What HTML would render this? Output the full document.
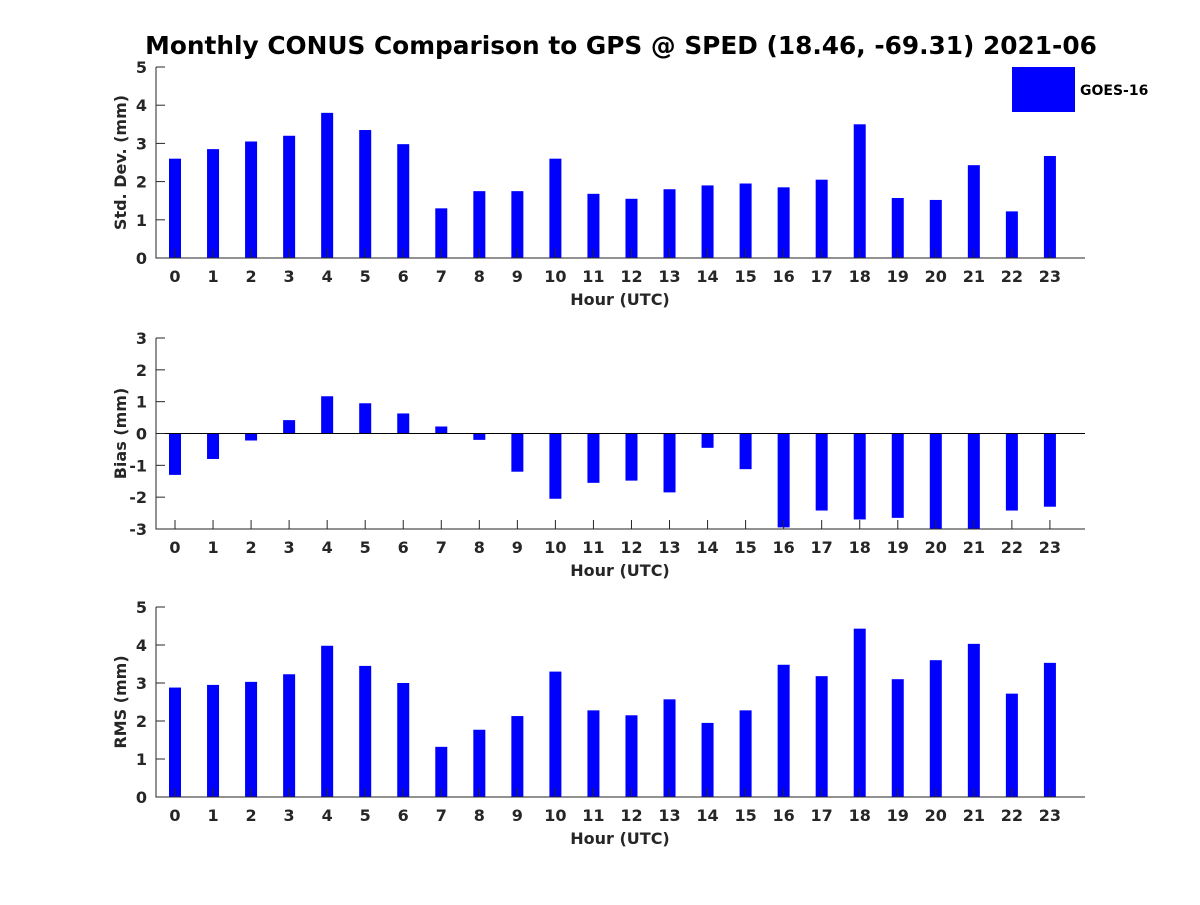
<!DOCTYPE html>
<html><head><meta charset="utf-8"><style>
body{margin:0;background:#fff}
svg text{font-family:"DejaVu Sans","Liberation Sans",sans-serif;font-weight:bold;fill:#262626}
</style></head><body>
<svg id="chart" width="1200" height="900">
<text x="621" y="54" text-anchor="middle" font-size="24.8" style="fill:#000">Monthly CONUS Comparison to GPS @ SPED (18.46, -69.31) 2021-06</text>
<rect x="1012" y="67" width="63" height="45" fill="#0000ff"/>
<text x="1080" y="95" font-size="14" style="fill:#000">GOES-16</text>
</svg>
<script>
const hours=[0,1,2,3,4,5,6,7,8,9,10,11,12,13,14,15,16,17,18,19,20,21,22,23];
const stdDev=[2.6,2.85,3.05,3.2,3.8,3.35,2.98,1.3,1.75,1.75,2.6,1.68,1.55,1.8,1.9,1.95,1.85,2.05,3.5,1.57,1.52,2.43,1.22,2.67];
const bias=[-1.3,-0.8,-0.22,0.42,1.17,0.95,0.63,0.22,-0.2,-1.2,-2.05,-1.55,-1.48,-1.85,-0.45,-1.12,-2.95,-2.42,-2.7,-2.65,-3.0,-3.0,-2.42,-2.3];
const rms=[2.88,2.95,3.03,3.23,3.98,3.45,3.0,1.32,1.77,2.13,3.3,2.28,2.15,2.57,1.95,2.28,3.48,3.18,4.43,3.1,3.6,4.03,2.72,3.53];
const stdTicks=[0,1,2,3,4,5];
const biasTicks=[-3,-2,-1,0,1,2,3];
const rmsTicks=[0,1,2,3,4,5];
const NS='http://www.w3.org/2000/svg';
const svg=document.getElementById('chart');
function mk(tag,attrs,parent){const e=document.createElementNS(NS,tag);for(const k in attrs)e.setAttribute(k,attrs[k]);(parent||svg).appendChild(e);return e;}
const X0=156,X1=1085;
function xs(h){return 175+h*38.04;}
function panel(name,vals,ticks,ymin,ymax,top,bot,ylabel){
  const g=mk('g',{});
  
  
  const ys=v=>bot-(v-ymin)/(ymax-ymin)*(bot-top);
  const base=ys(Math.max(ymin,0));
  vals.forEach((v,i)=>{
    const y1=ys(v),y0=base;
    const r=mk('rect',{x:xs(hours[i])-6,y:Math.min(y0,y1),width:12,height:Math.abs(y1-y0),fill:'#0000ff'},g);
    
    
  });
  if(ymin<0){const z=mk('line',{x1:X0,x2:X1,y1:base,y2:base,stroke:'#000','stroke-width':1},g);
    }
  const ax=mk('path',{d:`M${X0} ${top}V${bot}H${X1}`,fill:'none',stroke:'#262626','stroke-width':1},g);
  
  ticks.forEach(t=>{const y=ys(t);
    mk('line',{x1:X0,x2:X0+9,y1:y,y2:y,stroke:'#262626'},g);
    const tx=mk('text',{x:X0-9,y:y+6,'text-anchor':'end','font-size':16},g);tx.textContent=t;
    });
  hours.forEach(h=>{const x=xs(h);
    mk('line',{x1:x,x2:x,y1:bot,y2:bot-9,stroke:'#262626'},g);
    const tx=mk('text',{x:x,y:bot+24,'text-anchor':'middle','font-size':16},g);tx.textContent=h;
    });
  const xl=mk('text',{x:620,y:bot+47,'text-anchor':'middle','font-size':16},g);xl.textContent='Hour (UTC)';
  
  const cy=(top+bot)/2;
  const yl=mk('text',{x:126,y:cy,'text-anchor':'middle','font-size':16,transform:`rotate(-90 126 ${cy})`},g);yl.textContent=ylabel;
  
}
panel('std-dev',stdDev,stdTicks,0,5,67,258,'Std. Dev. (mm)');
panel('bias',bias,biasTicks,-3,3,338,529,'Bias (mm)');
panel('rms',rms,rmsTicks,0,5,607,797,'RMS (mm)');
</script>
</body></html>
